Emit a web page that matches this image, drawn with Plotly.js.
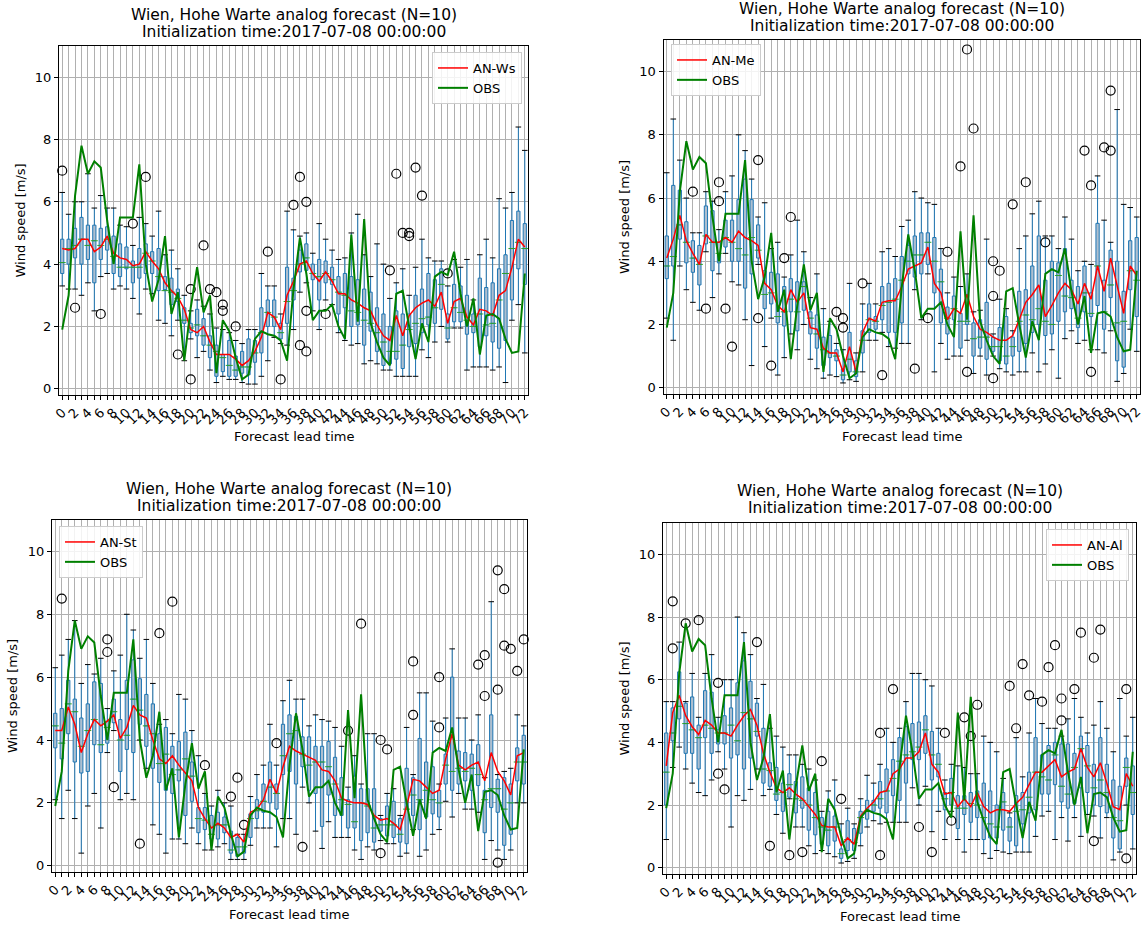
<!DOCTYPE html>
<html><head><meta charset="utf-8">
<script src="https://cdn.plot.ly/plotly-3.0.1.min.js"></script>
<style>body{margin:0;background:#fff}#chart{width:1146px;height:926px}</style>
</head><body><div id="chart"></div>
<script>
const leadTimes = [0,1,2,3,4,5,6,7,8,9,10,11,12,13,14,15,16,17,18,19,20,21,22,23,24,25,26,27,28,29,30,31,32,33,34,35,36,37,38,39,40,41,42,43,44,45,46,47,48,49,50,51,52,53,54,55,56,57,58,59,60,61,62,63,64,65,66,67,68,69,70,71,72];
const obs = [1.9,3.0,6.2,7.8,6.9,7.3,7.1,5.4,4.0,5.5, 5.5,5.5,7.2,4.0,2.8,3.5,4.9,2.4,3.1,0.9, 2.6,3.9,2.45,3.0,0.5,2.2,1.85,1.0,0.3,0.45, 1.6,1.85,1.75,1.7,1.55,0.9,3.2,4.85,3.7,2.2, 2.5,2.5,2.7,2.0,1.6,4.95,2.15,5.45,2.1,1.5, 1.0,0.75,3.05,3.15,2.0,0.95,2.1,1.5,3.6,3.75, 3.65,4.4,3.05,2.0,2.9,1.1,2.35,2.4,2.25,1.6, 1.15,1.2,3.7];

// Panel 1: AN-Ws
const wsLow = [3.3,3.2,3.2,3.0,3.4,2.5,3.6,3.7,3.2,3.3, 3.2,2.9,2.4,3.2,3.05,2.2,2.1,1.7,2.2,0.9, 1.6,1.0,1.2,0.6,0.2,0.4,0.3,0.3,0.2,0.15, 0.15,0.4,0.9,1.65,1.45,1.4,1.9,3.1,3.4,2.5, 1.9,2.85,2.7,1.8,1.55,1.4,1.45,0.8,0.9,0.8, 0.6,0.6,0.4,0.4,0.4,0.4,1.25,1.0,1.5,2.0, 1.5,1.95,1.95,0.6,0.7,0.7,0.7,0.6,0.7,0.2, 2.2,2.7,1.15];
const wsQ1 = [3.7,4.0,4.2,4.0,4.15,3.4,4.15,4.45,3.7,3.6, 3.85,3.4,3.55,3.7,3.7,3.15,3.15,2.7,2.8,2.1, 1.8,1.7,1.4,1.0,0.4,0.55,0.4,0.4,0.5,0.45, 0.85,1.15,2.0,2.0,1.6,2.1,2.85,3.75,3.8,3.5, 2.85,3.4,3.35,2.4,2.6,2.0,2.05,1.4,1.85,1.2, 0.75,0.8,0.95,0.65,1.35,1.45,1.8,2.05,2.1,2.55, 1.6,2.15,2.15,1.75,1.8,1.35,1.7,1.5,1.3,1.55, 2.85,3.85,3.35];
const wsMed = [4.05,4.5,4.6,4.8,4.6,4.75,4.6,4.8,4.25,3.9, 3.9,3.9,3.9,4.35,4.1,3.6,3.15,3.1,2.9,2.2, 1.95,2.05,1.7,1.4,1.2,1.0,0.75,0.6,0.7,0.7, 1.15,1.8,2.45,2.3,1.8,2.8,3.15,4.0,4.2,3.7, 3.6,3.7,3.5,3.1,3.0,2.5,2.45,2.2,2.1,1.8, 1.5,1.2,1.2,1.4,1.9,2.1,2.25,2.3,2.6,3.35, 1.95,2.6,2.45,2.2,2.0,2.4,2.05,2.1,2.85,3.7, 4.5,4.7,4.5];
const wsQ3 = [4.8,4.8,5.15,5.5,5.25,5.25,5.15,5.2,4.9,4.65, 4.55,4.1,4.5,4.65,4.4,4.5,3.6,3.55,3.2,2.6, 2.1,2.55,2.25,1.7,1.4,1.1,1.55,1.05,1.2,1.6, 1.55,2.6,2.85,2.85,2.1,3.9,3.55,4.45,4.65,4.0, 4.15,4.1,3.9,3.6,3.7,3.6,3.5,3.2,3.1,2.6, 2.4,2.0,2.5,2.4,2.4,3.0,3.2,3.7,3.5,3.85, 2.4,3.35,3.3,3.0,2.4,3.55,3.25,3.4,3.85,4.3, 5.4,5.7,5.3];
const wsHigh = [6.3,5.6,6.0,6.0,6.9,5.8,6.2,5.8,5.8,5.25, 5.2,4.6,5.5,5.3,4.9,5.7,4.3,4.45,3.85,3.0, 2.5,2.85,2.65,2.4,1.95,1.9,1.8,1.55,1.45,1.9, 1.9,3.7,3.3,3.3,2.4,5.7,5.1,4.9,5.0,4.35, 5.3,4.8,4.45,4.15,4.2,5.0,5.6,4.3,3.6,4.65, 4.0,2.9,3.4,3.85,3.0,3.9,4.8,4.2,4.1,4.1, 3.3,4.15,3.9,4.15,2.85,4.3,4.8,4.2,6.1,5.8, 6.3,8.4,7.65];
const wsMean = [4.5,4.45,4.5,4.8,4.8,4.4,4.55,4.9,4.35,4.2, 4.15,3.95,4.0,4.4,4.1,3.85,3.4,3.15,2.95,2.55, 1.9,1.8,2.0,1.5,1.1,1.1,1.1,0.95,0.75,0.9, 1.2,1.65,2.45,2.3,1.9,3.0,3.45,4.0,4.1,3.7, 3.45,3.75,3.45,3.05,3.05,2.85,2.75,2.6,2.5,2.05, 1.7,1.55,2.35,1.7,2.35,2.6,2.75,2.85,2.65,3.1, 2.1,2.8,2.9,2.3,2.05,2.55,2.5,2.35,3.0,3.15, 3.9,4.8,4.55];
const wsOutLead = [0,2,6,11,13,18,20,20,22,23,24,25,25,27,32,34,36,37,38,38,37,38,41,51,52,53,54,54,55,56,60];
const wsOutVal = [7.0,2.6,2.4,5.3,6.8,1.1,3.2,0.3,4.6,3.2,3.1,2.7,2.5,2.0,4.4,0.3,5.9,6.8,6.0,2.5,1.4,1.2,2.4,3.8,6.9,5.0,4.9,5.0,7.1,6.2,3.7];

// Panel 2: AN-Me
const meLow = [2.2,1.5,3.85,3.1,2.7,2.45,4.3,2.85,3.6,4.25, 3.35,3.25,2.15,0.7,3.9,1.3,2.2,0.4,0.95,1.7, 1.2,2.0,0.9,0.6,0.3,0.4,0.35,0.15,0.25,0.2, 0.5,1.5,1.5,1.75,1.3,1.25,1.4,1.4,3.1,2.15, 3.6,0.5,1.4,0.9,1.0,1.0,1.5,0.45,1.0,0.4, 1.0,0.6,0.5,0.4,0.5,0.5,1.1,0.5,0.75,1.2, 0.3,1.55,1.8,1.4,1.5,1.2,1.2,1.1,1.8,0.2, 0.45,1.85,1.15];
const meQ1 = [3.45,3.85,4.7,3.95,3.65,3.25,4.55,3.7,3.95,4.45, 4.0,4.0,3.15,3.6,4.1,2.5,2.65,2.05,1.95,2.4, 1.8,2.45,1.7,1.25,0.7,0.95,0.85,0.25,0.5,0.35, 1.1,1.75,1.85,2.15,1.75,1.75,2.05,3.6,3.5,3.6, 3.9,3.0,2.05,1.7,2.15,1.25,2.0,1.0,1.25,0.9, 1.15,0.85,0.75,1.0,1.15,1.4,1.75,2.0,1.65,1.7, 2.1,2.4,2.5,1.9,2.4,2.25,2.6,1.85,2.85,0.85, 0.65,3.1,2.25];
const meMed = [3.85,4.15,5.15,4.6,4.1,3.9,4.8,4.6,4.25,4.75, 4.6,4.4,4.2,4.75,4.35,2.95,3.0,2.25,2.4,2.8, 2.4,3.2,2.2,1.7,1.2,1.1,1.0,0.4,0.9,0.5, 1.5,2.15,2.1,2.6,2.7,2.8,3.4,4.0,4.2,4.2, 4.6,4.0,3.35,2.2,2.5,2.1,2.1,1.55,1.6,1.6, 1.3,1.3,1.0,1.3,2.1,2.3,2.15,2.5,2.1,2.0, 3.55,2.9,2.85,2.2,3.0,2.35,3.85,2.4,3.25,2.05, 2.1,3.7,3.4];
const meQ3 = [4.8,6.4,6.25,5.25,4.65,4.5,5.75,5.6,4.6,5.3, 5.3,5.95,6.6,5.95,5.15,3.7,3.65,3.6,3.2,3.45, 3.35,3.35,2.4,2.3,1.6,1.65,1.2,0.6,1.75,0.85, 1.8,2.65,2.25,3.2,3.3,3.45,4.15,4.5,4.8,4.9, 4.9,4.75,3.75,2.55,2.9,2.35,2.95,2.05,2.15,2.7, 1.6,1.9,2.25,1.6,3.05,3.1,3.85,4.8,3.4,4.0, 3.95,4.4,3.4,3.2,3.85,3.0,5.2,3.4,4.35,4.0, 3.05,4.65,4.75];
const meHigh = [6.8,8.5,7.2,6.0,4.9,4.9,6.2,5.9,5.0,6.2, 6.7,8.0,7.5,6.6,5.4,5.85,4.4,4.6,3.5,4.2, 5.3,4.3,2.85,3.6,2.5,2.1,1.4,1.2,3.3,1.1, 2.65,3.3,2.65,4.3,4.4,4.15,5.1,5.3,6.2,6.0, 5.85,5.8,4.4,3.0,3.5,3.2,3.6,2.4,2.45,4.7, 1.7,2.8,2.5,1.8,4.4,4.8,5.5,5.9,4.8,4.8, 4.4,5.4,4.7,3.7,4.0,3.9,6.7,5.3,4.6,8.8, 5.8,5.7,5.4];
const meMean = [4.1,4.7,5.45,4.65,4.25,3.9,4.85,4.6,4.6,4.75, 4.6,4.95,4.75,4.65,4.5,3.3,3.1,2.6,2.4,3.1, 2.7,3.0,1.9,1.85,1.25,1.1,1.1,0.5,1.3,0.5, 1.75,2.2,2.1,2.7,2.75,2.75,3.2,3.75,3.85,3.95, 4.45,3.3,3.0,2.15,2.5,2.35,2.95,2.25,1.85,1.75, 1.6,1.5,1.5,1.65,2.15,2.7,2.95,3.25,2.25,2.6, 3.0,3.3,3.1,2.65,3.3,2.8,3.85,3.05,4.1,3.2, 2.35,3.85,3.55];
const meOutLead = [4,6,8,8,9,10,14,14,16,18,19,26,27,27,30,33,38,40,43,45,46,47,46,50,51,50,50,53,55,58,64,65,65,67,68,68];
const meOutVal = [6.2,2.5,6.5,5.9,2.5,1.3,7.2,2.2,0.7,4.1,5.4,2.4,2.2,1.9,3.3,0.4,0.6,2.2,4.3,7.0,10.7,8.2,0.5,4.0,3.7,2.9,0.3,5.8,6.5,4.6,7.5,6.4,0.5,7.6,7.5,9.4];

// Panel 3: AN-St
const stLow = [2.1,1.5,2.4,1.5,0.4,1.9,2.3,1.2,3.6,4.3, 2.1,2.3,2.1,4.0,3.1,1.3,1.0,0.4,0.85,0.85, 0.7,1.2,0.7,0.5,0.5,0.6,0.7,0.2,0.2,0.2, 0.65,1.2,1.2,1.2,0.6,1.5,1.5,1.0,2.5,2.0, 1.1,0.55,1.4,0.9,0.9,0.9,0.5,0.2,0.6,0.5, 0.8,0.7,0.7,0.3,0.4,1.15,0.3,0.5,1.0,1.15, 2.05,1.55,2.3,1.8,1.8,1.7,0.2,0.8,0.5,0.2, 0.5,2.0,2.0];
const stQ1 = [3.75,3.4,4.2,3.3,2.95,3.0,3.85,3.6,3.9,4.55, 3.0,3.7,3.6,4.5,3.8,3.1,2.65,2.4,2.3,2.7, 1.6,2.05,1.05,1.15,0.85,0.85,1.05,0.4,0.3,0.4, 0.9,1.5,1.7,2.0,1.8,2.9,3.0,2.6,3.15,2.4, 2.3,1.25,2.25,1.6,1.6,1.2,1.2,0.8,1.05,0.75, 1.1,0.95,0.9,0.75,0.7,1.6,1.15,1.55,1.65,1.55, 2.6,2.4,2.6,2.7,2.4,2.55,1.05,1.85,1.7,0.65, 1.0,2.7,2.6];
const stMed = [4.45,3.9,5.15,4.9,3.8,4.3,4.65,3.85,4.4,4.9, 4.0,4.15,5.3,4.95,4.45,4.2,3.25,3.55,2.9,3.05, 3.4,2.85,1.5,1.45,1.0,1.3,1.3,0.5,0.6,0.6, 1.5,1.75,2.05,2.5,2.3,3.5,4.2,4.3,3.55,3.2, 3.3,3.3,3.15,2.6,2.1,1.95,1.4,2.0,1.9,1.2, 1.3,1.3,1.3,1.0,1.8,2.25,2.1,2.4,2.1,2.0, 3.2,3.0,3.1,3.0,3.1,2.9,2.1,2.45,2.45,1.8, 2.0,3.3,3.3];
const stQ3 = [4.85,5.0,5.9,5.3,4.7,5.15,5.85,5.8,4.6,5.3, 4.65,5.9,6.55,5.95,5.45,5.15,4.2,4.4,3.8,3.95, 4.25,3.3,1.85,1.85,1.6,1.7,1.55,1.1,0.9,0.8, 1.65,2.1,2.6,3.3,2.6,4.5,4.8,4.75,4.1,4.1, 3.8,3.8,3.95,3.45,2.8,2.1,2.85,2.45,2.45,2.45, 1.5,1.9,2.05,1.5,3.1,2.8,4.05,3.3,3.15,2.4, 3.55,6.0,3.65,3.6,3.55,3.85,2.4,4.8,2.75,2.8, 2.6,3.75,4.15];
const stHigh = [6.3,6.7,7.2,7.8,5.8,6.4,6.1,6.6,5.0,6.2, 6.7,8.0,7.5,6.6,7.2,5.8,4.5,4.65,4.2,5.45, 5.3,4.3,3.5,2.3,1.9,2.4,2.0,1.9,1.0,1.0, 2.2,2.9,3.2,4.5,3.2,5.25,5.9,5.3,5.3,4.45, 4.8,4.65,4.6,4.4,3.8,2.5,3.5,2.6,4.2,4.2, 1.6,2.3,2.45,1.6,4.4,2.9,5.5,5.5,4.6,2.6, 4.7,6.9,4.7,4.7,4.0,4.8,2.8,8.4,2.9,3.0, 3.1,4.8,4.45];
const stMean = [4.3,4.3,5.05,4.5,3.6,4.2,4.65,4.45,4.6,4.8, 4.05,4.4,5.1,4.8,4.7,4.0,3.4,3.25,3.5,3.2, 2.95,2.7,1.85,1.5,1.2,1.35,1.2,0.9,1.0,0.75, 1.7,1.8,2.1,2.75,2.3,3.15,3.8,3.65,3.55,3.45, 3.35,3.05,3.0,2.7,2.15,2.05,2.0,2.0,1.95,1.6, 1.45,1.5,1.35,1.15,1.9,2.75,2.7,2.5,2.3,2.4, 3.4,4.2,3.2,3.05,3.2,3.3,2.7,3.6,3.0,2.7, 2.25,3.5,3.6];
const stOutLead = [1,8,8,9,13,16,18,23,27,28,29,34,38,45,47,50,50,51,55,55,59,59,65,66,66,68,68,68,69,69,70,71,72];
const stOutVal = [8.5,7.2,6.8,2.5,0.7,7.4,8.4,3.2,2.2,2.8,1.3,3.9,0.6,4.3,7.7,4.0,0.4,3.7,6.5,4.8,6.0,4.4,6.4,6.7,5.4,9.4,5.6,0.1,8.8,7.0,6.9,6.2,7.2];

// Panel 4: AN-Al
const alLow = [0.9,3.2,3.85,3.15,2.7,2.4,2.3,2.8,3.7,3.15, 1.3,2.3,2.15,2.5,3.15,2.3,2.5,1.7,1.1,2.2, 1.3,1.3,0.7,0.45,0.55,0.45,0.35,0.15,0.2,0.3, 0.7,1.3,1.5,1.4,1.45,1.45,1.45,1.45,2.55,2.0, 2.6,1.15,1.8,0.9,1.8,0.9,0.5,0.9,0.9,0.45, 0.3,0.55,0.5,0.45,0.5,0.5,0.5,1.0,1.65,1.8, 0.9,1.6,0.85,1.6,1.0,1.7,1.65,0.95,1.6,0.25, 0.5,2.0,0.6];
const alQ1 = [2.0,4.05,4.75,3.65,3.65,3.15,4.15,3.65,3.95,3.95, 3.5,3.6,3.15,3.5,4.2,2.7,2.6,2.15,1.8,2.25, 1.75,1.9,1.2,1.05,0.75,0.7,0.85,0.3,0.55,0.55, 1.1,1.55,1.8,1.9,1.75,2.3,2.15,2.7,3.45,3.45, 3.65,2.8,2.9,1.85,2.0,1.25,1.7,1.45,1.6,0.9, 0.95,0.95,1.2,0.85,0.7,1.4,1.75,1.85,2.35,2.35, 2.65,2.1,1.9,2.05,2.55,2.4,2.0,1.95,1.75,0.95, 0.6,2.6,1.7];
const alMed = [3.05,4.3,5.15,4.6,4.4,4.15,4.55,4.45,4.3,4.3, 4.55,4.05,4.95,4.75,4.35,3.15,3.1,2.35,2.4,2.65, 2.2,2.15,2.0,1.6,1.3,1.2,1.3,0.45,0.9,0.8, 1.6,1.8,2.0,2.2,2.45,2.85,3.4,3.6,3.7,3.85, 4.4,3.6,3.3,2.2,2.4,1.9,1.9,2.05,2.0,1.6, 1.4,1.3,2.1,1.3,1.8,1.85,2.25,3.05,2.9,2.8, 3.6,2.6,2.35,3.2,3.8,3.25,2.55,2.8,2.4,1.6, 1.5,3.2,2.4];
const alQ3 = [4.3,5.1,6.25,5.25,5.45,4.55,5.65,5.6,4.4,4.85, 5.1,5.9,6.6,5.95,5.25,4.45,3.35,3.2,2.7,3.0, 2.75,2.9,2.55,2.4,1.6,1.8,1.65,0.6,1.5,1.25, 1.8,2.15,2.15,2.75,3.15,3.45,4.15,4.5,4.6,4.65, 4.85,4.35,3.65,2.4,2.85,2.3,2.3,2.4,2.45,2.7, 2.45,2.0,2.4,1.6,2.3,2.4,3.05,4.15,3.6,3.9, 4.0,3.95,3.95,3.65,4.2,3.9,3.3,4.15,3.3,2.8, 2.6,3.5,3.25];
const alHigh = [5.3,5.3,7.2,5.3,6.2,4.8,6.2,6.8,4.8,6.0, 6.0,8.0,7.5,6.8,5.4,5.85,4.45,4.2,3.85,3.6, 3.6,3.3,3.15,2.8,1.8,2.45,2.8,1.4,1.9,1.4, 2.2,2.95,2.7,3.3,4.45,4.0,4.45,5.3,6.2,6.2, 6.0,5.8,4.45,2.8,3.3,3.25,3.2,3.0,3.0,4.2, 4.0,3.7,2.85,1.75,4.15,2.9,4.3,5.4,4.6,4.45, 4.45,4.2,4.75,5.4,4.8,4.3,4.55,5.3,4.45,3.7, 5.4,4.2,4.8];
const alMean = [3.25,4.95,5.5,4.85,4.5,4.25,4.7,4.55,4.3,4.3, 4.2,4.55,4.85,5.05,4.55,3.65,3.05,2.55,2.4,2.55, 2.35,2.2,1.95,1.7,1.35,1.3,1.3,0.7,0.95,0.75, 1.65,1.9,2.1,2.4,2.45,3.0,3.15,3.5,3.5,3.7, 4.3,3.3,3.05,2.35,2.4,1.95,2.2,1.95,2.4,1.95, 1.75,1.85,1.85,1.8,2.05,2.25,2.65,3.05,3.05,3.25, 3.45,2.9,3.05,3.15,3.8,3.2,2.9,3.35,2.7,1.95, 1.85,3.0,2.6];
const alOutLead = [1,1,3,5,8,8,9,14,16,19,21,24,27,33,33,35,39,41,43,44,46,47,48,53,54,55,56,58,59,60,61,61,63,64,66,67,66,71,71];
const alOutVal = [8.5,7.0,7.8,7.9,5.9,3.0,2.5,7.2,0.7,0.4,0.5,3.4,2.2,4.3,0.4,5.7,1.3,0.5,4.3,1.5,4.8,4.2,5.2,5.8,4.45,6.5,5.5,5.3,6.4,7.1,5.4,4.7,5.7,7.5,6.7,7.6,0.85,5.7,0.3];

const seriesNames = ['AN-Ws','AN-Me','AN-St','AN-Al'];
const titleLine1 = 'Wien, Hohe Warte analog forecast (N=10)';
const titleLine2 = 'Initialization time:2017-07-08 00:00:00';
const xLabel = 'Forecast lead time';
const yLabel = 'Wind speed [m/s]';
const yTicks = [0,2,4,6,8,10];

const data4 = [
  [wsLow,wsQ1,wsMed,wsQ3,wsHigh,wsMean,wsOutLead,wsOutVal],
  [meLow,meQ1,meMed,meQ3,meHigh,meMean,meOutLead,meOutVal],
  [stLow,stQ1,stMed,stQ3,stHigh,stMean,stOutLead,stOutVal],
  [alLow,alQ1,alMed,alQ3,alHigh,alMean,alOutLead,alOutVal]
];

// layout geometry in pixels
const W = 1146, H = 926;
const geo = [
  {l:59, r:528, t:46, b:395, t1:15, t2:32, xl:436, yx:20, legX:522, legY:52, legAnchor:'right'},
  {l:663.5, r:1140, t:40, b:394, t1:9, t2:26, xl:436, yx:624, legX:671, legY:44, legAnchor:'left'},
  {l:52, r:527, t:520, b:872, t1:489, t2:506, xl:914, yx:12, legX:59, legY:526, legAnchor:'left'},
  {l:663, r:1136, t:523, b:874, t1:491, t2:508, xl:916, yx:624, legX:1129, legY:529, legAnchor:'right'}
];
const px = v => v / W;
const py = v => 1 - v / H;

const tickText = leadTimes.map(v => (v % 2 === 0 ? String(v) : ''));
const font = 'DejaVu Sans';

const traces = [];
const layout = {
  width: W, height: H, margin: {l:0, r:0, t:0, b:0},
  paper_bgcolor: '#ffffff', plot_bgcolor: '#ffffff',
  showlegend: true, hovermode: false,
  font: {family: font, color: '#000000'},
  annotations: []
};

data4.forEach((d, i) => {
  const [lo, q1, med, q3, hi, mean, oLead, oVal] = d;
  const s = i === 0 ? '' : String(i + 1);
  const xa = 'x' + s, ya = 'y' + s;
  const leg = i === 0 ? 'legend' : 'legend' + (i + 1);
  const g = geo[i];

  traces.push({
    type: 'box', x: leadTimes, q1: q1, median: med, q3: q3,
    lowerfence: lo, upperfence: hi, width: 0.5,
    fillcolor: '#adbfd0', line: {color: '#1f77b4', width: 1},
    whiskerwidth: 0, boxpoints: false, showlegend: false, hoverinfo: 'skip',
    xaxis: xa, yaxis: ya
  });
  traces.push({
    type: 'scatter', mode: 'markers', x: leadTimes.concat(leadTimes), y: lo.concat(hi),
    marker: {symbol: 'line-ew', size: 4, color: '#000000', line: {color: '#000000', width: 1}},
    showlegend: false, hoverinfo: 'skip', xaxis: xa, yaxis: ya
  });
  traces.push({
    type: 'scatter', mode: 'markers', x: leadTimes, y: med,
    marker: {symbol: 'line-ew', size: 5, color: '#2ca02c', line: {color: '#2ca02c', width: 1}},
    showlegend: false, hoverinfo: 'skip', xaxis: xa, yaxis: ya
  });
  traces.push({
    type: 'scatter', mode: 'markers', x: oLead, y: oVal,
    marker: {symbol: 'circle-open', size: 9, color: '#000000', line: {color: '#000000', width: 1.2}},
    showlegend: false, hoverinfo: 'skip', xaxis: xa, yaxis: ya, cliponaxis: false
  });
  traces.push({
    type: 'scatter', mode: 'lines', x: leadTimes, y: mean, name: seriesNames[i],
    line: {color: '#ff0000', width: 1.5}, legend: leg, xaxis: xa, yaxis: ya
  });
  traces.push({
    type: 'scatter', mode: 'lines', x: leadTimes, y: obs, name: 'OBS',
    line: {color: '#008000', width: 2}, legend: leg, xaxis: xa, yaxis: ya
  });

  layout['xaxis' + s] = {
    domain: [px(g.l), px(g.r)], anchor: ya, range: [-0.5, 72.5],
    tickmode: 'array', tickvals: leadTimes, ticktext: tickText, tickangle: -45,
    ticks: 'outside', ticklen: 4, tickwidth: 1, tickcolor: '#000000',
    showgrid: true, gridcolor: '#b0b0b0', gridwidth: 1,
    showline: true, mirror: true, linecolor: '#000000', linewidth: 1,
    zeroline: false, tickfont: {family: font, size: 13, color: '#000000'}
  };
  layout['yaxis' + s] = {
    domain: [py(g.b), py(g.t)], anchor: xa, range: [-0.2, 11],
    tickmode: 'array', tickvals: yTicks, ticktext: yTicks.map(String),
    ticks: 'outside', ticklen: 4, tickwidth: 1, tickcolor: '#000000',
    showgrid: true, gridcolor: '#b0b0b0', gridwidth: 1,
    showline: true, mirror: true, linecolor: '#000000', linewidth: 1,
    zeroline: false, tickfont: {family: font, size: 13, color: '#000000'}
  };
  layout[leg] = {
    x: px(g.legX), y: py(g.legY), xanchor: g.legAnchor, yanchor: 'top',
    xref: 'paper', yref: 'paper',
    bgcolor: 'rgba(255,255,255,0.85)', bordercolor: '#cccccc', borderwidth: 1,
    font: {family: font, size: 13, color: '#000000'}, itemwidth: 30,
    traceorder: 'normal', tracegroupgap: 0
  };

  const cx = px((g.l + g.r) / 2);
  layout.annotations.push(
    {text: titleLine1, x: cx, y: py(g.t1), xref: 'paper', yref: 'paper', xanchor: 'center', yanchor: 'middle', showarrow: false, font: {family: font, size: 15.5, color: '#000000'}},
    {text: titleLine2, x: cx, y: py(g.t2), xref: 'paper', yref: 'paper', xanchor: 'center', yanchor: 'middle', showarrow: false, font: {family: font, size: 15.5, color: '#000000'}},
    {text: xLabel, x: cx, y: py(g.xl), xref: 'paper', yref: 'paper', xanchor: 'center', yanchor: 'middle', showarrow: false, font: {family: font, size: 13, color: '#000000'}},
    {text: yLabel, x: px(g.yx), y: py((g.t + g.b) / 2), xref: 'paper', yref: 'paper', xanchor: 'center', yanchor: 'middle', textangle: -90, showarrow: false, font: {family: font, size: 13, color: '#000000'}}
  );
});

Plotly.newPlot('chart', traces, layout, {displayModeBar: false, staticPlot: true});
</script>
</body></html>
